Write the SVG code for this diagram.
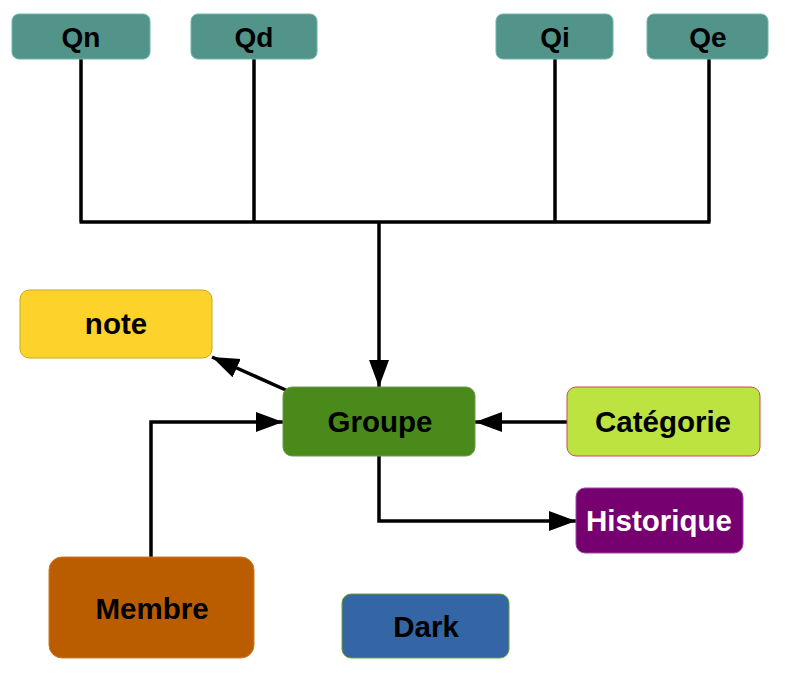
<svg xmlns="http://www.w3.org/2000/svg" width="786" height="681" viewBox="0 0 786 681">
<style>
.lbl{font-family:"Liberation Sans",Arial,sans-serif;font-weight:bold;font-size:29.5px;text-anchor:middle;fill:#000}
.q{font-size:28px}
.qbox{fill:#52948A;stroke:#6DB5A8;stroke-width:1}
.ln{fill:none;stroke:#000;stroke-width:3.5}
</style>
<defs>
<marker id="ah" markerUnits="userSpaceOnUse" markerWidth="27" markerHeight="22" viewBox="0 0 27 22" refX="27" refY="11" orient="auto">
<path d="M0,1 L27,11 L0,21 Z" fill="#000"/>
</marker>
</defs>
<rect width="786" height="681" fill="#fff"/>
<g id="connectors">
<path class="ln" d="M81,59 V222 M254,59 V222 M555,59 V222 M709,59 V222 M79.5,222 H710.5"/>
<path class="ln" d="M379,222 V387" stroke-width="4.5" marker-end="url(#ah)"/>
<path class="ln" d="M288,391 L212,357" marker-end="url(#ah)"/>
<path class="ln" d="M567,422 H475" marker-end="url(#ah)"/>
<path class="ln" d="M151,557 V422 H283" marker-end="url(#ah)"/>
<path class="ln" d="M379,456 V521 H576" marker-end="url(#ah)"/>
</g>
<g id="Qn"><rect class="qbox" x="12" y="14" width="138" height="45" rx="7"/><text class="lbl q" x="81" y="46.5">Qn</text></g>
<g id="Qd"><rect class="qbox" x="191" y="14" width="126" height="45" rx="7"/><text class="lbl q" x="254" y="46.5">Qd</text></g>
<g id="Qi"><rect class="qbox" x="496" y="14" width="117" height="45" rx="7"/><text class="lbl q" x="555" y="46.5">Qi</text></g>
<g id="Qe"><rect class="qbox" x="647" y="14" width="121" height="45" rx="7"/><text class="lbl q" x="708" y="46.5">Qe</text></g>
<g id="note"><rect x="20" y="290" width="192" height="68" rx="9" fill="#FDD32B" stroke="#C9A91F" stroke-width="1"/><text class="lbl" x="116" y="334">note</text></g>
<g id="Groupe"><rect x="283" y="387" width="192" height="69" rx="9" fill="#4A8A1A" stroke="#6A9A50" stroke-width="1"/><text class="lbl" x="380" y="432">Groupe</text></g>
<g id="Categorie"><rect x="567" y="387" width="193" height="69" rx="9" fill="#BCE33F" stroke="#C45050" stroke-width="1"/><text class="lbl" x="663" y="432">Catégorie</text></g>
<g id="Historique"><rect x="576" y="488" width="167" height="65" rx="9" fill="#770071" stroke="#9A4AA0" stroke-width="1"/><text class="lbl" x="659" y="531" style="fill:#fff">Historique</text></g>
<g id="Membre"><rect x="49" y="557" width="205" height="101" rx="13" fill="#B95D00" stroke="#D07A20" stroke-width="1"/><text class="lbl" x="152" y="618.5">Membre</text></g>
<g id="Dark"><rect x="342" y="594" width="167" height="64" rx="9" fill="#3465A5" stroke="#6AA030" stroke-width="1"/><text class="lbl" x="426" y="636.5">Dark</text></g>
</svg>
